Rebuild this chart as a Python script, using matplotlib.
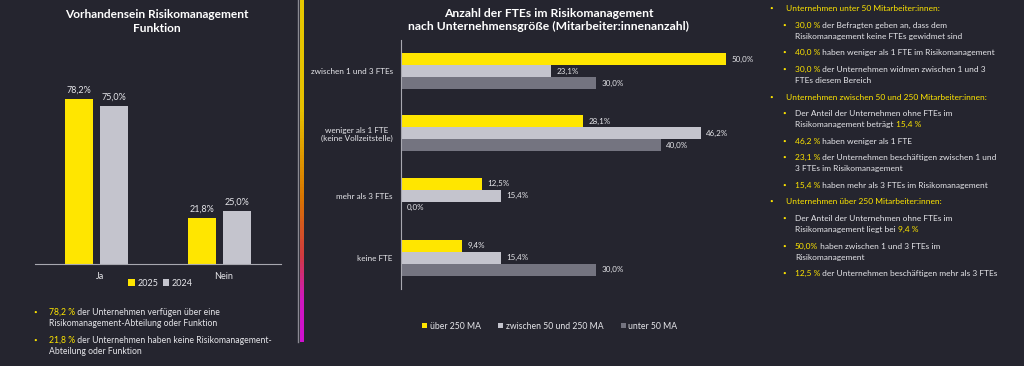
"""Risikomanagement survey slide: Funktion vorhanden + FTEs nach Unternehmensgroesse."""

import matplotlib

matplotlib.use("Agg")
import matplotlib.pyplot as plt
import numpy as np
from matplotlib.collections import LineCollection
from matplotlib.colors import LinearSegmentedColormap

plt.rcParams["font.family"] = ["Lato", "DejaVu Sans"]

BG = "#25252f"
YELLOW = "#FFE600"
LIGHT = "#C4C4CD"
DARK = "#747480"
WHITE = "#e6e6ea"
AXIS = "#a8a8b0"

# left chart
func_cats = ["Ja", "Nein"]
func_2025 = [78.2, 21.8]
func_2024 = [75.0, 25.0]

# middle chart (top to bottom)
fte_cats = ["zwischen 1 und 3 FTEs", "weniger als 1 FTE\n(keine Vollzeitstelle)", "mehr als 3 FTEs", "keine FTE"]
fte_over250 = [50.0, 28.1, 12.5, 9.4]
fte_50to250 = [23.1, 46.2, 15.4, 15.4]
fte_under50 = [30.0, 40.0, 0.0, 30.0]
fte_series = ["über 250 MA", "zwischen 50 und 250 MA", "unter 50 MA"]

left_notes = [
    [("78,2 %", YELLOW), (" der Unternehmen verfügen über eine", WHITE)],
    [("21,8 %", YELLOW), (" der Unternehmen haben keine Risikomanagement-", WHITE)],
]
left_notes_cont = ["Risikomanagement-Abteilung oder Funktion", "Abteilung oder Funktion"]

# (level, pieces) ; level 0 = continuation of previous bullet
right_notes = [
    (1, [("Unternehmen unter 50 Mitarbeiter:innen:", YELLOW)]),
    (2, [("30,0 %", YELLOW), (" der Befragten geben an, dass dem", WHITE)]),
    (0, [("Risikomanagement keine FTEs gewidmet sind", WHITE)]),
    (2, [("40,0 %", YELLOW), (" haben weniger als 1 FTE im Risikomanagement", WHITE)]),
    (2, [("30,0 %", YELLOW), (" der Unternehmen widmen zwischen 1 und 3", WHITE)]),
    (0, [("FTEs diesem Bereich", WHITE)]),
    (1, [("Unternehmen zwischen 50 und 250 Mitarbeiter:innen:", YELLOW)]),
    (2, [("Der Anteil der Unternehmen ohne FTEs im", WHITE)]),
    (0, [("Risikomanagement beträgt ", WHITE), ("15,4 %", YELLOW)]),
    (2, [("46,2 %", YELLOW), (" haben weniger als 1 FTE", WHITE)]),
    (2, [("23,1 %", YELLOW), (" der Unternehmen beschäftigen zwischen 1 und", WHITE)]),
    (0, [("3 FTEs im Risikomanagement", WHITE)]),
    (2, [("15,4 %", YELLOW), (" haben mehr als 3 FTEs im Risikomanagement", WHITE)]),
    (1, [("Unternehmen über 250 Mitarbeiter:innen:", YELLOW)]),
    (2, [("Der Anteil der Unternehmen ohne FTEs im", WHITE)]),
    (0, [("Risikomanagement liegt bei ", WHITE), ("9,4 %", YELLOW)]),
    (2, [("50,0%", YELLOW), (" haben zwischen 1 und 3 FTEs im", WHITE)]),
    (0, [("Risikomanagement", WHITE)]),
    (2, [("12,5 %", YELLOW), (" der Unternehmen beschäftigen mehr als 3 FTEs", WHITE)]),
]
right_y = [8, 25, 36, 52, 69, 80, 97, 113, 124, 141, 157, 168, 185, 201, 218, 229, 246, 257, 273]


def pct(v):
    return f"{v:.1f}%".replace(".", ",")


fig = plt.figure(figsize=(10.24, 3.66), dpi=100, facecolor=BG)

# ---- left: Vorhandensein Risikomanagement Funktion ----
axl = fig.add_axes([35 / 1024, 1 - 264 / 366, 246 / 1024, 190 / 366], facecolor=BG)
x = np.arange(len(func_cats))
w = 0.225
b1 = axl.bar(x - 0.145, func_2025, w, color=YELLOW, label="2025")
b2 = axl.bar(x + 0.145, func_2024, w, color=LIGHT, label="2024")
for bars in (b1, b2):
    axl.bar_label(bars, labels=[pct(v) for v in bars.datavalues], padding=3, color=WHITE, fontsize=6.5)
axl.set_xlim(-0.5, 1.5)
axl.set_ylim(0, 90)
axl.set_xticks(x + 0.03, func_cats)
axl.set_yticks([])
axl.tick_params(axis="x", length=0, pad=6, labelsize=6.5, labelcolor=WHITE)
for side in ("top", "right", "left"):
    axl.spines[side].set_visible(False)
axl.spines["bottom"].set_color(AXIS)
axl.spines["bottom"].set_linewidth(0.8)
axl.legend(loc="center", bbox_to_anchor=(0.51, -0.1), ncol=2, frameon=False, fontsize=6.5,
           labelcolor=WHITE, handlelength=0.7, handleheight=0.7, handletextpad=0.3, columnspacing=0.5)

# ---- middle: Anzahl der FTEs ----
axm = fig.add_axes([401 / 1024, 1 - 289 / 366, 357 / 1024, 249 / 366], facecolor=BG)
y = np.arange(len(fte_cats))
h = 0.193
for off, vals, col, lab in ((-h, fte_over250, YELLOW, fte_series[0]),
                            (0, fte_50to250, LIGHT, fte_series[1]),
                            (h, fte_under50, DARK, fte_series[2])):
    bars = axm.barh(y + off, vals, h, color=col, label=lab)
    axm.bar_label(bars, labels=[pct(v) for v in vals], padding=4, color=WHITE, fontsize=5.8)
axm.set_ylim(len(fte_cats) - 0.5, -0.5)
axm.set_xlim(0, 55)
axm.set_xticks([])
axm.set_yticks(y, fte_cats)
for lbl in axm.get_yticklabels():
    lbl.set_multialignment("center")
axm.tick_params(axis="y", length=0, pad=6, labelsize=5.9, labelcolor=WHITE)
for side in ("top", "right", "bottom"):
    axm.spines[side].set_visible(False)
axm.spines["left"].set_color(AXIS)
axm.spines["left"].set_linewidth(0.8)
axm.legend(loc="center", bbox_to_anchor=(0.417, -0.149), ncol=3, frameon=False, fontsize=6.2,
           labelcolor=WHITE, handlelength=0.6, handleheight=0.6, handletextpad=0.3, columnspacing=2.0)

# ---- overlay in pixel coordinates: titles, divider lines, notes ----
ax0 = fig.add_axes([0, 0, 1, 1], facecolor="none")
ax0.set_xlim(0, 1024)
ax0.set_ylim(366, 0)
ax0.axis("off")

ax0.text(157, 21.5, "Vorhandensein Risikomanagement\nFunktion", ha="center", va="center",
         fontsize=8.6, fontweight="bold", color="white", linespacing=1.25)
ax0.text(549, 20, "Anzahl der FTEs im Risikomanagement\nnach Unternehmensgröße (Mitarbeiter:innenanzahl)",
         ha="center", va="center", fontsize=8.7, fontweight="bold", color="white", linespacing=1.25)

ax0.plot([297.5, 297.5], [0, 342], color="#8a8a92", lw=1)
grad = LinearSegmentedColormap.from_list(
    "div", [(0, "#e6c800"), (0.32, "#e6c000"), (0.58, "#d87400"), (0.75, "#d03a40"), (0.88, "#d018c0"), (1, "#d010d0")])
ys = np.linspace(0, 342, 120)
segs = [[(302, a), (302, min(b + 1.5, 342))] for a, b in zip(ys[:-1], ys[1:])]
ax0.add_collection(LineCollection(segs, colors=grad(np.linspace(0, 1, len(segs))), linewidths=1.5,
                                  capstyle="butt", antialiaseds=False))


def rich_line(x0, yc, pieces, size=6):
    prev = ax0.text(x0, yc + 2.8, pieces[0][0], color=pieces[0][1], fontsize=size, va="baseline", ha="left")
    for txt, col in pieces[1:]:
        prev = ax0.annotate(txt, xy=(1, 0), xycoords=prev, color=col, fontsize=size, va="bottom", ha="left")


def bullet(xb, yc):
    ax0.text(xb, yc, "•", color=YELLOW, fontsize=4.5, ha="center", va="center")


for pieces, cont, yc in zip(left_notes, left_notes_cont, [312, 340]):
    bullet(35, yc)
    rich_line(49, yc, pieces, size=6.2)
    rich_line(49, yc + 11, [(cont, WHITE)], size=6.2)

for (level, pieces), yc in zip(right_notes, right_y):
    if level == 1:
        bullet(771, yc)
        rich_line(786, yc, pieces)
    else:
        if level == 2:
            bullet(784, yc)
        rich_line(795, yc, pieces)

fig.savefig("out.png", dpi=100, facecolor=BG)
